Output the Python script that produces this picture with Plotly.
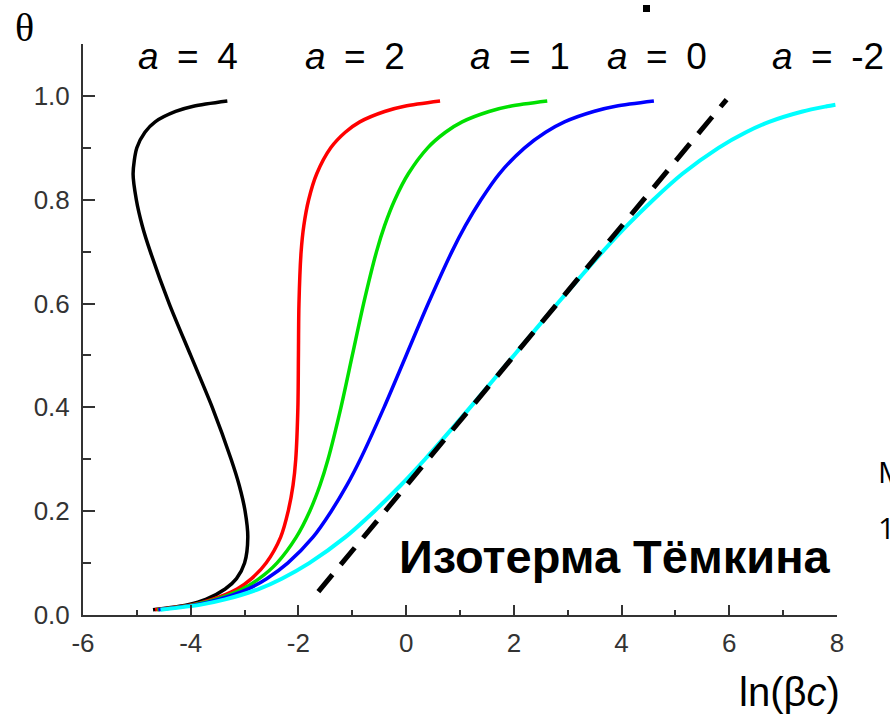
import plotly.graph_objects as go

# ---- data ----
theta = [0.01, 0.02, 0.03, 0.05, 0.07, 0.10, 0.15, 0.20, 0.25, 0.30, 0.40, 0.50,
         0.60, 0.70, 0.75, 0.80, 0.85, 0.90, 0.93, 0.95, 0.97, 0.98, 0.99]
theta_cyan = [0.01, 0.02, 0.03, 0.05, 0.07, 0.10, 0.15, 0.20, 0.25, 0.30, 0.40, 0.50,
              0.60, 0.70, 0.75, 0.80, 0.85, 0.90, 0.93, 0.95, 0.97, 0.98, 0.983]

x_a4 = [-4.70, -4.05, -3.72, -3.36, -3.15, -3.00, -2.94, -2.99, -3.10, -3.25, -3.60, -4.00,
        -4.40, -4.75, -4.90, -5.01, -5.07, -5.00, -4.85, -4.66, -4.28, -3.95, -3.32]
x_a2 = [-4.66, -3.97, -3.60, -3.14, -2.87, -2.60, -2.33, -2.19, -2.10, -2.05, -2.01, -2.00,
        -1.99, -1.95, -1.90, -1.81, -1.66, -1.40, -1.13, -0.86, -0.40, -0.03, 0.63]
x_a1 = [-4.62, -3.93, -3.54, -3.04, -2.73, -2.40, -2.04, -1.79, -1.60, -1.45, -1.21, -1.00,
        -0.79, -0.55, -0.40, -0.21, 0.04, 0.40, 0.73, 1.04, 1.54, 1.93, 2.62]
x_a0 = [-4.60, -3.89, -3.48, -2.94, -2.59, -2.20, -1.73, -1.39, -1.10, -0.85, -0.41, 0.00,
        0.41, 0.85, 1.10, 1.39, 1.73, 2.20, 2.59, 2.94, 3.48, 3.89, 4.60]
x_am2 = [-4.56, -3.81, -3.36, -2.74, -2.31, -1.80, -1.13, -0.59, -0.10, 0.35, 1.19, 2.00,
         2.81, 3.65, 4.10, 4.59, 5.13, 5.80, 6.31, 6.74, 7.36, 7.81, 7.97]

temkin_x = [-1.63, 5.95]
temkin_y = [0.045, 0.993]

curve_labels = ["<i>a</i>\u2002=\u20024", "<i>a</i>\u2002=\u20022", "<i>a</i>\u2002=\u20021",
                "<i>a</i>\u2002=\u20020", "<i>a</i>\u2002=\u2002-2"]
x_ticks = [-6, -4, -2, 0, 2, 4, 6, 8]
x_tick_text = ["-6", "-4", "-2", "0", "2", "4", "6", "8"]
y_ticks = [0.0, 0.2, 0.4, 0.6, 0.8, 1.0]
y_tick_text = ["0.0", "0.2", "0.4", "0.6", "0.8", "1.0"]

# ---- layout geometry (pixels) ----
W, H = 890, 717
L, R, T, B = 83, 837, 44, 615


def px(xp):
    return (xp - L) / (R - L)


def py(yp):
    return (B - yp) / (B - T)


fig = go.Figure()
series = [
    (x_a4, theta, "#000000", 3.5),
    (x_a2, theta, "#ff0000", 3.5),
    (x_a1, theta, "#00e000", 3.5),
    (x_a0, theta, "#0000ff", 3.5),
    (x_am2, theta_cyan, "#00ffff", 4),
]
for xs, ys, col, w in series:
    fig.add_trace(go.Scatter(x=xs, y=ys, mode="lines",
                             line=dict(color=col, width=w, shape="spline", smoothing=0.8),
                             showlegend=False, hoverinfo="skip"))
fig.add_trace(go.Scatter(x=temkin_x, y=temkin_y, mode="lines",
                         line=dict(color="#000000", width=5, dash="22px,13px"),
                         showlegend=False, hoverinfo="skip"))

axis_col = "#333333"
tick_font = dict(family="Liberation Sans, Arial, sans-serif", size=26, color="#333333")
fig.update_xaxes(range=[-6, 8], tickvals=x_ticks, ticktext=x_tick_text, ticks="inside",
                 ticklen=10, tickwidth=1.5,
                 tickcolor=axis_col, showline=True, linecolor=axis_col, linewidth=2,
                 showgrid=False, zeroline=False, tickfont=tick_font, ticklabelstandoff=4,
                 minor=dict(ticks="inside", ticklen=5, tickwidth=1.5, tickcolor=axis_col,
                            dtick=1, tick0=-6, showgrid=False))
fig.update_yaxes(range=[0, 1.1], tickvals=y_ticks, ticktext=y_tick_text, ticks="inside",
                 ticklen=12, tickwidth=1.5, tickcolor=axis_col, showline=True,
                 linecolor=axis_col, linewidth=2, showgrid=False, zeroline=False,
                 tickfont=tick_font, ticklabelstandoff=6,
                 minor=dict(ticks="inside", ticklen=8, tickwidth=1.5, tickcolor=axis_col,
                            dtick=0.1, tick0=0, showgrid=False))

ann = []
sans = "Liberation Sans, Arial, sans-serif"
ann.append(dict(x=px(24), y=py(27), text="θ", font=dict(family="Liberation Serif, serif", size=40, color="black")))
label_px = [188, 355, 520, 657, 828]
for t, xp in zip(curve_labels, label_px):
    ann.append(dict(x=px(xp), y=py(57), text=t, font=dict(family=sans, size=37, color="black")))
ann.append(dict(x=px(615), y=py(556), text="<b>Изотерма Тёмкина</b>",
                font=dict(family=sans, size=47, color="black")))
ann.append(dict(x=px(789), y=py(692), text="ln(β<i>c</i>)", font=dict(family=sans, size=40, color="black")))
ann.append(dict(x=px(876), y=py(471), text="M", xanchor="left",
                font=dict(family="Open Sans, sans-serif", size=30, color="black")))
ann.append(dict(x=px(876), y=py(527), text="1", xanchor="left",
                font=dict(family="Open Sans, sans-serif", size=30, color="black")))
for a in ann:
    a.setdefault("xanchor", "center")
    a.update(xref="paper", yref="paper", yanchor="middle", showarrow=False)

fig.update_layout(
    width=W, height=H,
    margin=dict(l=L, r=W - R, t=T, b=H - B),
    paper_bgcolor="white", plot_bgcolor="white",
    annotations=ann,
    shapes=[dict(type="rect", xref="paper", yref="paper",
                 x0=px(643), x1=px(650), y0=py(12), y1=py(5),
                 fillcolor="black", line=dict(width=0))],
)

fig.write_html("out.html", config={"displayModeBar": False},
               post_script="document.body.style.margin='0';document.body.style.padding='0';")
